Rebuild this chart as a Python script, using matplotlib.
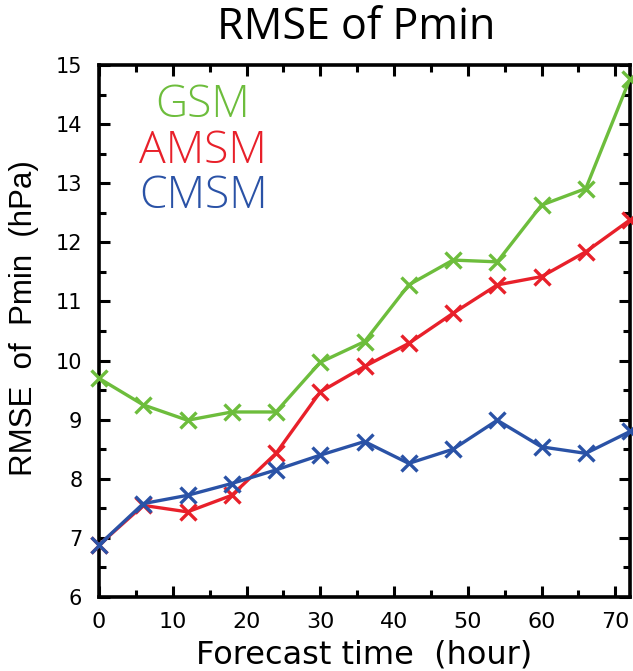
import numpy as np
import matplotlib
matplotlib.use('Agg')
import matplotlib.pyplot as plt
from matplotlib.ticker import MultipleLocator

plt.rcParams['font.family'] = ['DejaVu Sans']

# forecast lead time (hour)
hours = [0, 6, 12, 18, 24, 30, 36, 42, 48, 54, 60, 66, 72]

# RMSE of Pmin (hPa)
gsm = [9.70, 9.25, 8.99, 9.13, 9.13, 9.97, 10.32, 11.28, 11.70, 11.67, 12.63, 12.91, 14.77]
amsm = [6.88, 7.55, 7.44, 7.72, 8.43, 9.47, 9.90, 10.29, 10.80, 11.28, 11.42, 11.84, 12.38]
cmsm = [6.88, 7.58, 7.72, 7.92, 8.15, 8.40, 8.63, 8.26, 8.50, 8.99, 8.54, 8.43, 8.80]

names = ['GSM', 'AMSM', 'CMSM']
colors = ['#6dbd3c', '#e8202a', '#2a52a6']

fig = plt.figure(figsize=(6.33, 6.71), dpi=100)
ax = fig.add_axes([0.1564, 0.1103, 0.8389, 0.7928])

for vals, c in zip([gsm, amsm, cmsm], colors):
    ax.plot(hours, vals, color=c, lw=2.4, marker='x', ms=12, mew=2.4,
            clip_on=False, zorder=3)

ax.set_xlim(0, 72)
ax.set_ylim(6, 15)
ax.xaxis.set_major_locator(MultipleLocator(10))
ax.xaxis.set_minor_locator(MultipleLocator(5))
ax.yaxis.set_major_locator(MultipleLocator(1))
ax.yaxis.set_minor_locator(MultipleLocator(0.5))
ax.tick_params(which='both', direction='in', top=True, right=True, width=2.2)
ax.tick_params(which='major', length=8)
ax.tick_params(which='minor', length=5)
ax.tick_params(axis='x', which='major', pad=11, labelsize=16)
ax.tick_params(axis='y', which='major', pad=12, labelsize=15)
for s in ax.spines.values():
    s.set_linewidth(2.6)

ax.set_xlabel('Forecast time  (hour)', fontsize=23, labelpad=5)
fig.text(0.038, 0.526, 'RMSE  of  Pmin  (hPa)', rotation=90, fontsize=22.5,
         family='Liberation Sans', ha='center', va='center')

# coloured model names as legend
for i, (n, c) in enumerate(zip(names, colors)):
    ax.text(0.196, 0.923 - i * 0.0855, n, color=c, fontsize=32,
            family='Open Sans', fontweight='light',
            ha='center', va='center', transform=ax.transAxes)

fig.text(0.563, 0.958, 'RMSE of Pmin', fontsize=31, family='Open Sans',
         ha='center', va='center')

fig.savefig('out.png', dpi=100)
